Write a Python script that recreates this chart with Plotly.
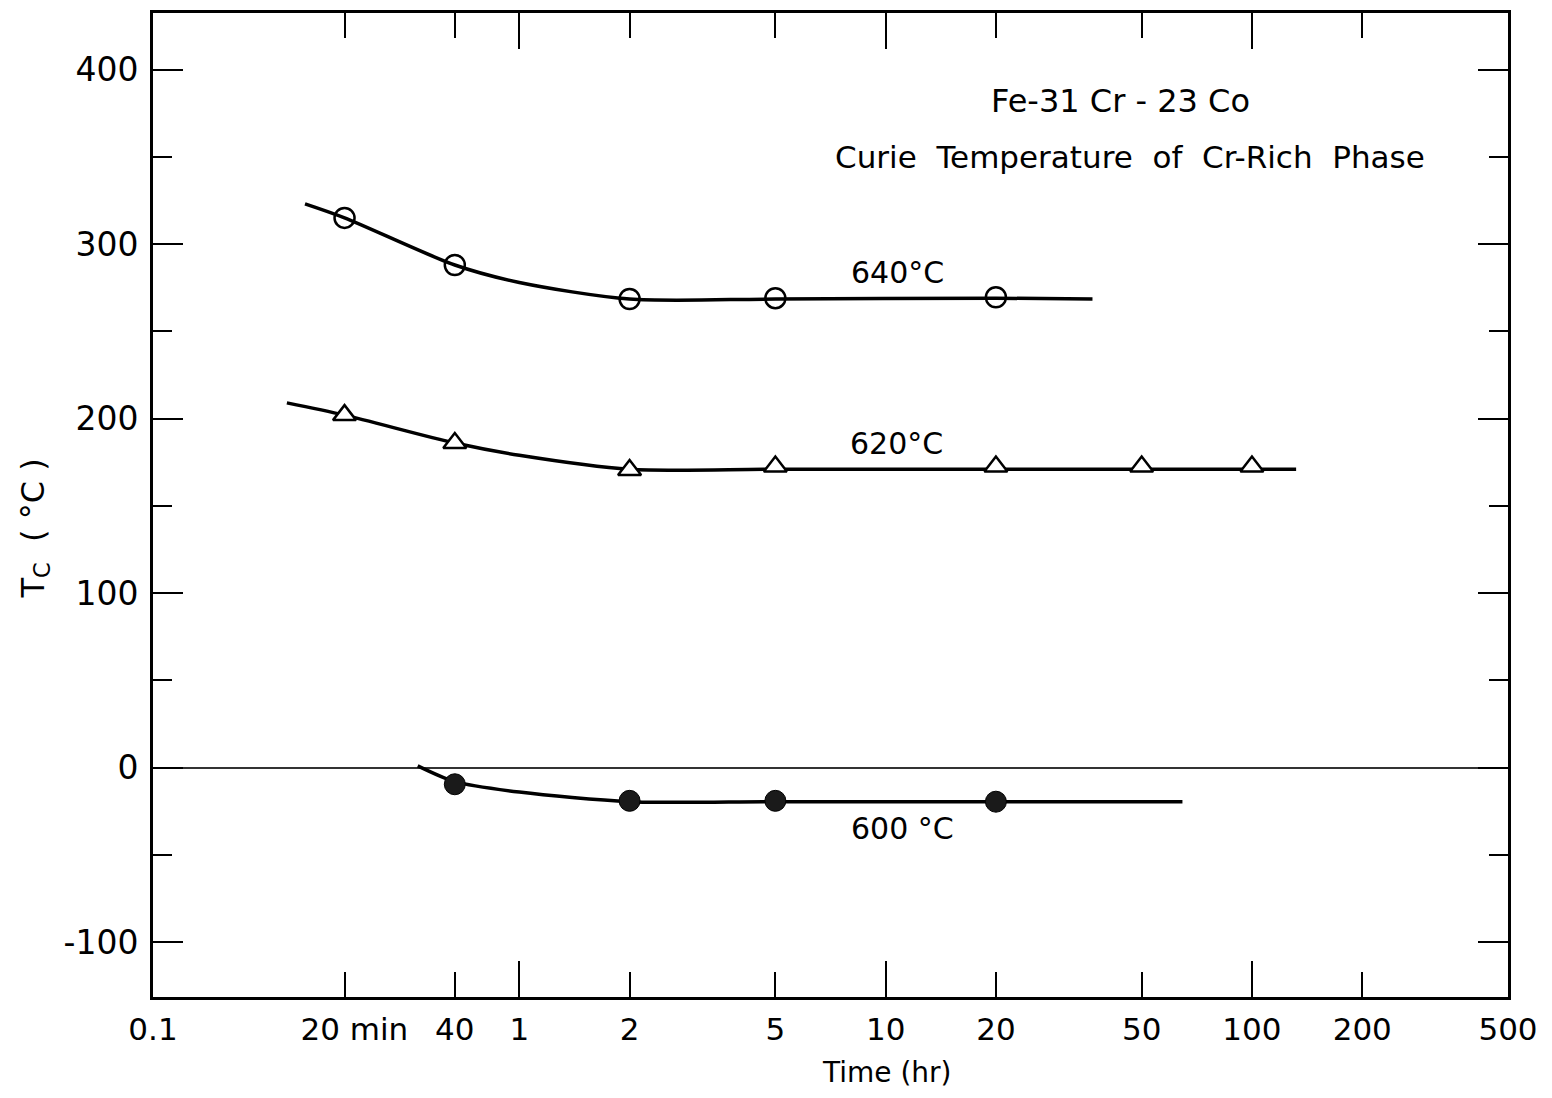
import math
import plotly.graph_objects as go

# ---- data (time in hours, Tc in °C) ----
tick_vals = [0.1, 1/3, 2/3, 1, 2, 5, 10, 20, 50, 100, 200, 500]
tick_text = ["0.1", "\u00a0\u00a020\u00a0min", "40", "1", "2", "5", "10", "20", "50", "100", "200", "500"]
decade_ticks = [1, 10, 100]
y_major = [-100, 0, 100, 200, 300, 400]
y_major_text = ["-100", "0", "100", "200", "300", "400"]
y_minor = [-50, 50, 150, 250, 350]

t640_pts = [1/3, 2/3, 2, 5, 20]
tc640_pts = [315, 288, 268.5, 269, 269.5]
t640_curve = [0.26, 1/3, 2/3, 1, 2, 5, 20, 36.7]
tc640_curve = [323, 315, 288, 278, 268.5, 268.5, 269, 268.5]

t620_pts = [1/3, 2/3, 2, 5, 20, 50, 100]
tc620_pts = [202, 186, 170.5, 172.5, 172.5, 172.5, 172.5]
t620_curve = [0.232, 1/3, 2/3, 1, 2, 5, 20, 50, 100, 132]
tc620_curve = [209, 202, 186, 179, 171, 171, 171, 171, 171, 171]

t600_pts = [2/3, 2, 5, 20]
tc600_pts = [-9.5, -19, -19, -19.5]
t600_curve = [0.528, 2/3, 1, 2, 5, 20, 64.6]
tc600_curve = [1, -8, -14, -19.5, -19.5, -19.5, -19.5]

FONT = "DejaVu Sans"

fig = go.Figure()

line_style = dict(color="black", width=3.5, shape="spline", smoothing=0.8)
fig.add_trace(go.Scatter(x=t640_curve, y=tc640_curve, mode="lines", line=line_style, xaxis="x2", yaxis="y"))
fig.add_trace(go.Scatter(x=t620_curve, y=tc620_curve, mode="lines", line=line_style))
fig.add_trace(go.Scatter(x=t600_curve, y=tc600_curve, mode="lines", line=line_style))

fig.add_trace(go.Scatter(x=t640_pts, y=tc640_pts, mode="markers",
                         marker=dict(symbol="circle", size=20, color="white",
                                     line=dict(color="black", width=2.5))))
fig.add_trace(go.Scatter(x=t620_pts, y=tc620_pts, mode="markers",
                         marker=dict(symbol="triangle-up", size=20, color="white",
                                     line=dict(color="black", width=2.5))))
fig.add_trace(go.Scatter(x=t600_pts, y=tc600_pts, mode="markers",
                         marker=dict(symbol="circle", size=21, color="#1a1a1a",
                                     line=dict(color="black", width=1))))

xr = [math.log10(0.1), math.log10(500)]
yr = [-131.4, 432.4]

fig.update_layout(
    width=1536, height=1082,
    margin=dict(l=145, r=36, t=2, b=93),
    paper_bgcolor="white", plot_bgcolor="white",
    showlegend=False,
    font=dict(family=FONT, color="black", size=30),
    xaxis=dict(type="log", range=xr, tickmode="array", tickvals=tick_vals, ticktext=tick_text,
               ticks="inside", ticklen=25, tickwidth=2.2, tickcolor="black",
               showline=True, linewidth=3, linecolor="black", mirror="ticks",
               showgrid=False, zeroline=False, tickfont=dict(size=31, family=FONT),
               ticklabelstandoff=3),
    xaxis2=dict(type="log", range=xr, overlaying="x", side="bottom", tickmode="array",
                tickvals=decade_ticks, ticks="inside", ticklen=36, tickwidth=2.2, tickcolor="black",
                showticklabels=False, showline=False, mirror="ticks", showgrid=False, zeroline=False),
    yaxis=dict(range=yr, tickmode="array", tickvals=y_major, ticktext=y_major_text,
               ticks="inside", ticklen=30, tickwidth=2.2, tickcolor="black",
               minor=dict(tickmode="array", tickvals=y_minor, ticks="inside",
                          ticklen=19, tickwidth=2.2, tickcolor="black", showgrid=False),
               showline=True, linewidth=3, linecolor="black", mirror="ticks",
               showgrid=False, zeroline=True, zerolinewidth=1.5, zerolinecolor="#333333",
               tickfont=dict(size=33, family=FONT), ticklabelstandoff=5),
)

ann = dict(showarrow=False, font=dict(family=FONT, size=30, color="black"))
fig.add_annotation(x=math.log10(43.7), y=382, text="Fe-31 Cr - 23 Co",
                   showarrow=False, font=dict(family=FONT, size=32, color="black"))
fig.add_annotation(x=math.log10(46.6), y=350,
                   text="Curie\u00a0\u00a0Temperature\u00a0\u00a0of\u00a0\u00a0Cr-Rich\u00a0\u00a0Phase",
                   showarrow=False, font=dict(family=FONT, size=31, color="black"))
fig.add_annotation(x=math.log10(10.8), y=284, text="640°C", **ann)
fig.add_annotation(x=math.log10(10.7), y=186, text="620°C", **ann)
fig.add_annotation(x=math.log10(11.1), y=-35, text="600 °C", **ann)

fig.add_annotation(xref="paper", yref="paper", x=(888 - 153) / 1356, y=-(1073 - 997) / 987,
                   text="Time (hr)", yanchor="middle",
                   showarrow=False, font=dict(family=FONT, size=28, color="black"))
fig.add_annotation(xref="paper", yref="paper", x=(35 - 153) / 1356, y=(997 - 527) / 987,
                   text="T<sub>C</sub>  ( °C )", textangle=-90, xanchor="center", yanchor="middle",
                   showarrow=False, font=dict(family=FONT, size=32, color="black"))

fig.write_html("out.html")
